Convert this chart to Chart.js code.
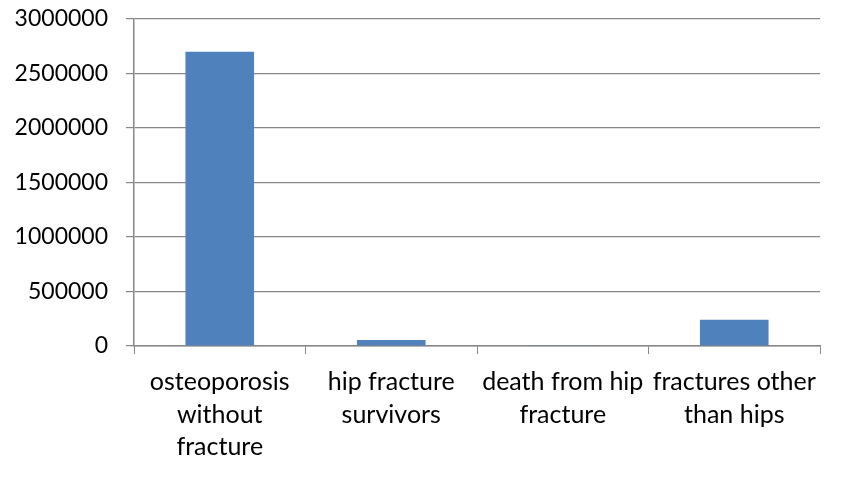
<!DOCTYPE html>
<html>
<head>
<meta charset="utf-8">
<script src="https://cdn.jsdelivr.net/npm/chart.js@4/dist/chart.umd.min.js"></script>
<style>
  html, body { margin: 0; padding: 0; background: #fff; }
  #wrap { width: 843px; height: 477px; position: relative; }
</style>
</head>
<body>
<div id="wrap"><canvas id="chart"></canvas></div>
<script>
// categories, wrapped the way the labels break under the axis
const categories = [
  ['osteoporosis', 'without', 'fracture'],
  ['hip fracture', 'survivors'],
  ['death from hip', 'fracture'],
  ['fractures other', 'than hips']
];
const values = [2700000, 55000, 6000, 240000];
const yTicks = [0, 500000, 1000000, 1500000, 2000000, 2500000, 3000000];

const axisGrey = '#878787';

new Chart(document.getElementById('chart'), {
  type: 'bar',
  data: {
    labels: categories,
    datasets: [{
      data: values,
      backgroundColor: '#4F81BD',
      borderWidth: 0,
      barPercentage: 0.4,
      categoryPercentage: 1
    }]
  },
  options: {
    responsive: true,
    maintainAspectRatio: false,
    animation: false,
    layout: { padding: { top: 19, right: 23, left: 0, bottom: 0 } },
    plugins: { legend: { display: false }, tooltip: { enabled: false } },
    scales: {
      x: {
        grid: { display: true, drawOnChartArea: false, drawTicks: true, tickLength: 8, color: axisGrey, offset: true },
        border: { display: true, color: axisGrey, width: 1.5 },
        ticks: { color: '#000', font: { family: 'Lato', size: 25, lineHeight: 1.3 }, padding: 12, maxRotation: 0, autoSkip: false },
        afterFit: s => { s.height = 131; s.paddingLeft = 0; s.paddingRight = 0; }
      },
      y: {
        min: 0,
        max: 3000000,
        afterBuildTicks: s => { s.ticks = yTicks.map(v => ({ value: v })); },
        grid: { color: axisGrey, lineWidth: 1.2, drawTicks: true, tickLength: 8 },
        border: { display: true, color: axisGrey, width: 1.5 },
        ticks: { color: '#000', font: { family: 'Lato', size: 23 }, padding: 18, callback: v => v },
        afterFit: s => { s.width = 134; s.paddingTop = 0; s.paddingBottom = 0; }
      }
    }
  }
});
</script>
</body>
</html>
